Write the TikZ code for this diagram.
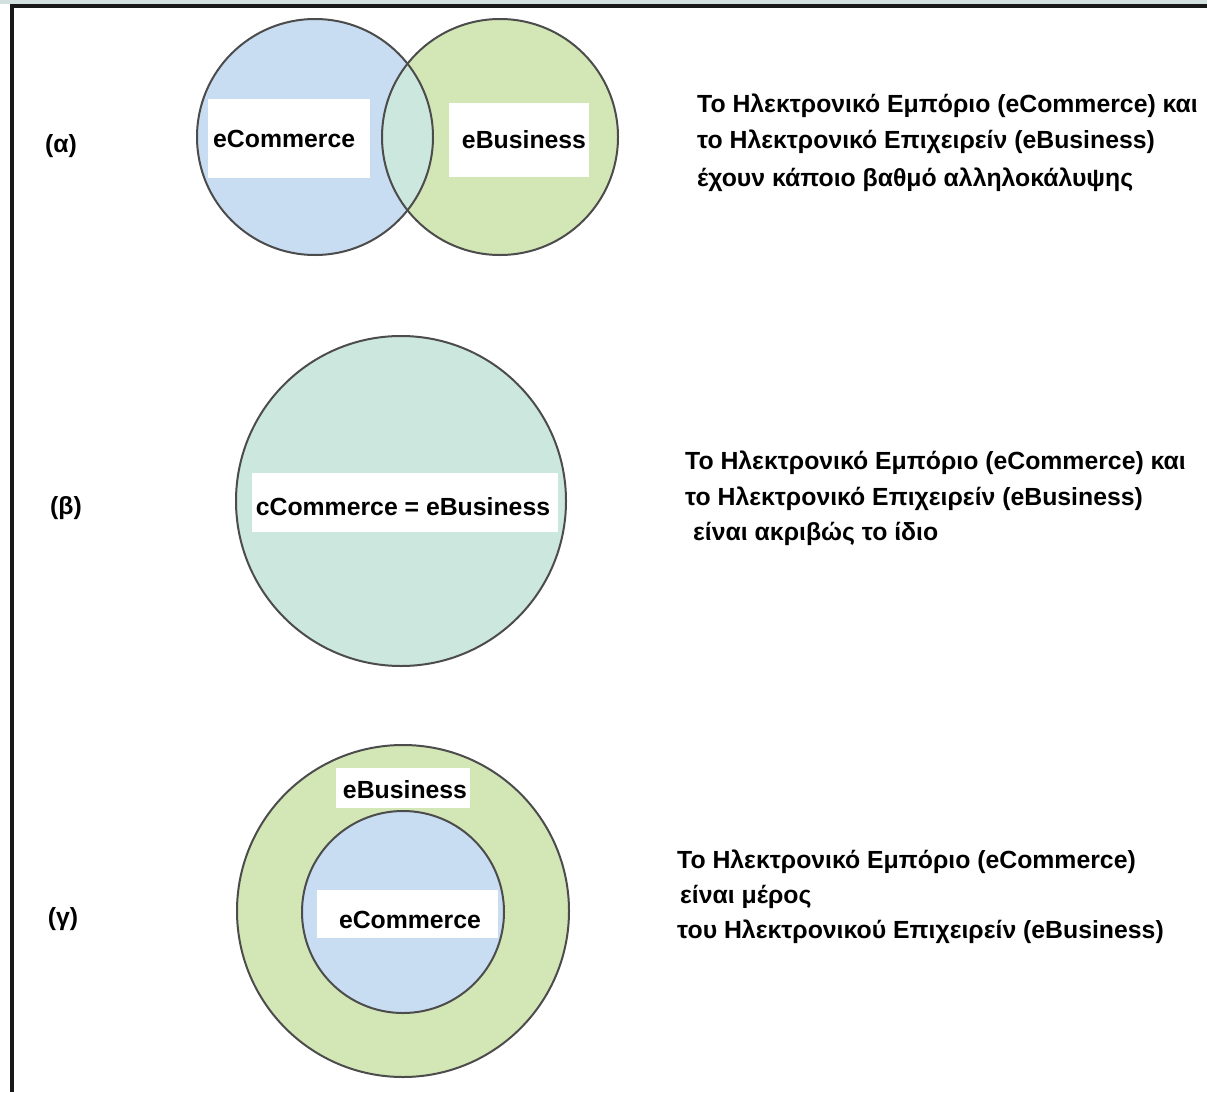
\documentclass[tikz,border=0pt]{standalone}
\usepackage{fontspec}
\setmainfont{Liberation Sans}[BoldFont={Liberation Sans Bold}]
\definecolor{cblue}{HTML}{C8DDF2}
\definecolor{cgreen}{HTML}{D3E6B5}
\definecolor{cmix}{HTML}{CCE7DE}
\definecolor{cstroke}{HTML}{4C4C4C}
\definecolor{ctop}{HTML}{D2E0E0}
\tikzset{
  txt/.style={inner sep=0pt, font=\fontsize{24.8}{29}\selectfont\bfseries, text=black},
  ring/.style={draw=cstroke, line width=2pt},
  whitebox/.style={fill=white, draw=none},
}
\begin{document}
\begin{tikzpicture}[x=1pt,y=-1pt]
\useasboundingbox (0,0) rectangle (1207,1092);
\fill[white] (0,0) rectangle (1207,1092);
% frame
\fill[ctop] (0,0) rectangle (1207,4);
\fill[black!90] (10,4) rectangle (1207,7.5);
\fill[black!90] (10,4) rectangle (13.5,1092);

% (alpha)
\coordinate (A1) at (315,137);
\coordinate (A2) at (500,137);
\fill[cblue] (A1) circle (118);
\fill[cgreen] (A2) circle (118);
\begin{scope}
  \clip (A1) circle (118);
  \fill[cmix] (A2) circle (118);
\end{scope}
\draw[ring] (A1) circle (118);
\draw[ring] (A2) circle (118);
\fill[whitebox] (208,99) rectangle (370,178);
\fill[whitebox] (449,103) rectangle (589,177);
\node[txt, anchor=base west] (aec) at (213,147) {eCommerce};
\node[txt, anchor=base] (aeb) at (524,148) {eBusiness};
\node[txt, anchor=base] (la) at (61,152) {(α)};
\node[txt, anchor=base west] (ta1) at (697,112) {Το Ηλεκτρονικό Εμπόριο (eCommerce) και};
\node[txt, anchor=base west] (ta2) at (697,148) {το Ηλεκτρονικό Επιχειρείν (eBusiness)};
\node[txt, anchor=base west] (ta3) at (697,186) {έχουν κάποιο βαθμό αλληλοκάλυψης};

% (beta)
\coordinate (B) at (401,501);
\fill[cmix] (B) circle (165);
\draw[ring] (B) circle (165);
\fill[whitebox] (252,473) rectangle (558,532);
\node[txt, anchor=base] (beq) at (403,515) {cCommerce = eBusiness};
\node[txt, anchor=base] (lb) at (66,514) {(β)};
\node[txt, anchor=base west] (tb1) at (685,469) {Το Ηλεκτρονικό Εμπόριο (eCommerce) και};
\node[txt, anchor=base west] (tb2) at (685,505) {το Ηλεκτρονικό Επιχειρείν (eBusiness)};
\node[txt, anchor=base west] (tb3) at (693,540) {είναι ακριβώς το ίδιο};

% (gamma)
\coordinate (G) at (403,911);
\fill[cgreen] (G) circle (166);
\draw[ring] (G) circle (166);
\fill[cblue] (403,912) circle (101);
\draw[ring] (403,912) circle (101);
\fill[whitebox] (336,768) rectangle (470,808);
\fill[whitebox] (317,890) rectangle (498,938);
\node[txt, anchor=base] (geb) at (405,798) {eBusiness};
\node[txt, anchor=base] (gec) at (410,928) {eCommerce};
\node[txt, anchor=base] (lg) at (63,925) {(γ)};
\node[txt, anchor=base west] (tg1) at (677,868) {Το Ηλεκτρονικό Εμπόριο (eCommerce)};
\node[txt, anchor=base west] (tg2) at (680,903) {είναι μέρος};
\node[txt, anchor=base west] (tg3) at (677,938) {του Ηλεκτρονικού Επιχειρείν (eBusiness)};
\end{tikzpicture}
\end{document}
